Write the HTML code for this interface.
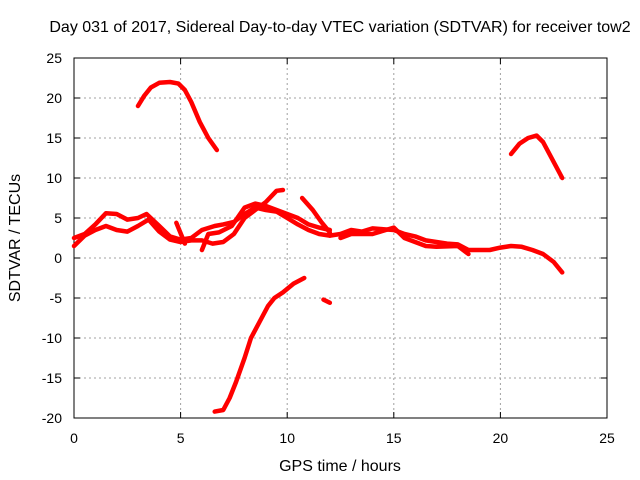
<!DOCTYPE html>
<html><head><meta charset="utf-8"><style>
body{margin:0;background:#fff}
svg{display:block;font-family:"Liberation Sans",sans-serif;font-size:14px}
.big{font-size:16px}
</style></head><body>
<svg id="chart" width="640" height="480">
<text class="big" x="340" y="32" text-anchor="middle">Day 031 of 2017, Sidereal Day-to-day VTEC variation (SDTVAR) for receiver tow2</text>
<g id="grid"></g>
<g id="ticks"></g>
<rect x="74" y="58" width="533" height="360" fill="none" stroke="#000"/>
<g id="series"></g>
<text class="big" x="340" y="471" text-anchor="middle">GPS time / hours</text>
<text class="big" transform="translate(20,238) rotate(-90)" text-anchor="middle">SDTVAR / TECUs</text>
</svg>
<script>
const xTicks=[0,5,10,15,20,25];
const yTicks=[-20,-15,-10,-5,0,5,10,15,20,25];
const trackTop=[[3.0,19],[3.3,20.3],[3.6,21.3],[4.0,21.9],[4.5,22],[4.9,21.8],[5.2,21],[5.5,19.5],[5.9,17],[6.3,15],[6.7,13.5]];
const trackRight=[[20.5,13],[20.9,14.3],[21.3,15],[21.7,15.3],[22.0,14.5],[22.3,13],[22.6,11.5],[22.9,10]];
const trackNeg=[[6.6,-19.2],[7.0,-19],[7.3,-17.5],[7.6,-15.5],[8.0,-12.5],[8.3,-10],[8.7,-8],[9.1,-6],[9.4,-5],[9.8,-4.3],[10.3,-3.2],[10.8,-2.5]];
const trackSmall=[[11.7,-5.2],[12.0,-5.6]];
const band1=[[0,2.5],[0.5,3],[1,4.2],[1.5,5.6],[2,5.5],[2.5,4.8],[3,5],[3.4,5.5],[4,4],[4.5,2.7],[5,2.3],[5.5,2.5],[6,3.5],[6.6,4],[7,4.2],[7.5,4.5],[8,5.5],[8.5,6.3],[9,6],[9.5,5.8],[10,5],[10.5,4.2],[11,3.5],[11.5,3],[12,2.8]];
const band2=[[0,1.5],[0.5,2.8],[1,3.5],[1.5,4],[2,3.5],[2.5,3.3],[3,4],[3.5,4.8],[4,3.3],[4.5,2.3],[5,2],[5.5,2.2],[6,2.2],[6.5,1.8],[7,2],[7.5,3],[8,5],[8.5,6],[9,7],[9.5,8.4],[9.8,8.5]];
const band3=[[6,1],[6.3,3],[6.8,3.2],[7.4,4],[8,6.3],[8.5,6.8],[9,6.5],[9.5,6],[10,5.5],[10.5,5],[11,4.2],[11.5,3.8],[12,3.5]];
const band4=[[10.7,7.5],[11.2,6],[11.6,4.5],[12,3.2]];
const band5=[[12,2.8],[12.5,3],[13,3.5],[13.5,3.3],[14,3.7],[14.5,3.6],[15,3.5],[15.5,3],[16,2.7],[16.5,2.2],[17,2],[17.5,1.8],[18,1.7],[18.5,1],[19,1],[19.5,1],[20,1.3],[20.5,1.5],[21,1.4],[21.5,1],[22,0.5],[22.5,-0.5],[22.9,-1.8]];
const band6=[[12.5,2.5],[13,3],[14,3],[15,3.8],[15.5,2.5],[16,2],[16.5,1.5],[17,1.4],[18,1.5],[18.5,0.5]];
const band7=[[4.8,4.4],[5.2,1.8]];
const tracks=[trackTop,trackRight,trackNeg,trackSmall,band1,band2,band3,band4,band5,band6,band7];
const X=v=>74+v*533/25, Y=v=>418-(v+20)*360/45;
const NS="http://www.w3.org/2000/svg";
const grid=document.getElementById('grid'),ticks=document.getElementById('ticks'),ser=document.getElementById('series');
function mk(p,t,a){const e=document.createElementNS(NS,t);for(const k in a)e.setAttribute(k,a[k]);p.appendChild(e);return e;}
xTicks.forEach(t=>{const x=X(t);
 if(t>0&&t<25){const g=mk(grid,'line',{x1:x,x2:x,y1:58,y2:418,stroke:'#a0a0a0','stroke-dasharray':'2,3'});
 
 }
 const l=mk(ticks,'text',{x:x,y:443,'text-anchor':'middle'});l.textContent=t;
 
 
 mk(ticks,'line',{x1:x,x2:x,y1:418,y2:412,stroke:'#000'});mk(ticks,'line',{x1:x,x2:x,y1:58,y2:64,stroke:'#000'});});
yTicks.forEach(t=>{const y=Y(t);
 if(t>-20&&t<25){const g=mk(grid,'line',{x1:74,x2:607,y1:y,y2:y,stroke:'#a0a0a0','stroke-dasharray':'2,3'});
 
 }
 const l=mk(ticks,'text',{x:62,y:y+5,'text-anchor':'end'});l.textContent=t;
 
 
 mk(ticks,'line',{x1:74,x2:80,y1:y,y2:y,stroke:'#000'});mk(ticks,'line',{x1:601,x2:607,y1:y,y2:y,stroke:'#000'});});
tracks.forEach(tr=>{const p=mk(ser,'polyline',{points:tr.map(d=>X(d[0])+','+Y(d[1])).join(' '),fill:'none',stroke:'#ff0000','stroke-width':4.5,'stroke-linejoin':'round','stroke-linecap':'round'});
 
 });
</script>
</body></html>
